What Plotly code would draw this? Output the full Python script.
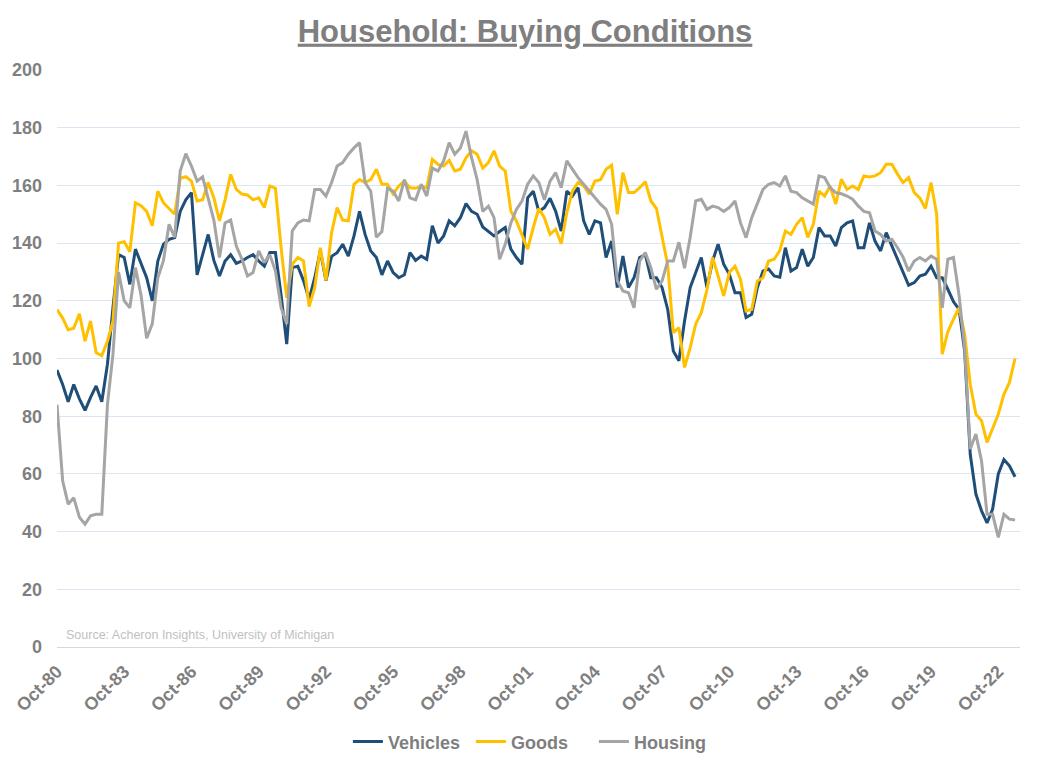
import pandas as pd
import plotly.graph_objects as go

# Quarterly readings starting Oct-1980 (every 3 months)
start_date = "1980-10-01"
n_points = 172

vehicles = [
    96, 91, 85, 91, 86, 82, 86.5, 90.5, 85, 98, 117.6, 136, 135, 125.7, 137.9, 132.7, 128, 120, 133.8, 139.6, 141.3, 141.9,
    151, 155, 157.5, 129, 136, 143, 134, 128.6, 133.8, 136, 133, 133.8, 135, 136, 133.8, 132, 136.7, 136.7, 122, 105, 131.5,
    132, 127, 120.5, 128, 137.3, 127, 135.4, 136.7, 139.6, 135.5, 142.5, 151, 143, 137.3, 135, 129, 133.8, 129.8, 128, 129, 136.7,
    134, 135.5, 134.4, 146, 140, 142.5, 147.7, 146, 148.8, 153.7, 151, 150, 145.6, 144.2, 142.5, 144, 145.4, 137.9, 135, 132.7, 155.7, 158,
    151, 152.3, 155.5, 151, 144.2, 158, 156.3, 159.2, 147.7, 143, 147.7, 147, 135, 140.7, 124.6, 135.5, 124.6, 128, 135, 136, 128,
    128, 124.6, 117, 102.6, 99.2, 113, 124.6, 129.8, 135, 124.6, 133.8, 139.6, 132.7, 129.2, 122.8, 122.8, 114.2, 115.3, 124.6, 130.3, 131, 128.6,
    128.2, 138.4, 130.3, 131.5, 137.9, 132, 135, 145.4, 142.5, 142.5, 139, 145.4, 147, 147.7, 138.4, 138.4, 147, 140.7, 137.3, 143.6, 139,
    134.5, 129.4, 125.4, 126.3, 128.6, 129.2, 132, 128, 128, 124, 119.7, 117, 102.6, 66.8, 53, 47.2, 43, 47.8, 60, 65, 62.8, 59,
]

goods = [
    117, 114, 110, 110.5, 115.5, 106, 113, 102, 101, 106, 113, 140, 140.5, 137, 154, 153, 151, 146, 158, 154, 152, 150,
    162.5, 163, 161.5, 154.6, 155, 161, 155.7, 147.7, 155, 163.8, 158.6, 157, 156.7, 155, 155.7, 152.3, 159.8, 159, 138.4, 121, 132.7,
    135, 133.8, 118, 124.6, 138.4, 127, 143.6, 152.3, 148, 147.7, 160.4, 162, 161, 162, 165.6, 160.4, 160.4, 157, 159.8, 161.5, 159.2,
    159, 159.8, 159.2, 169, 167.3, 166.7, 168.7, 165, 165.6, 169.6, 172, 170.8, 166, 167.9, 172, 166.7, 165, 151, 147.7, 143, 137.9, 145.4,
    152, 148.8, 143, 144.8, 139.8, 150.5, 158, 161, 159.8, 157, 161.5, 162, 165.6, 167, 150, 164.4, 157.5, 157.5, 159.2, 161.3, 154.6,
    152, 141.9, 132.4, 109, 110.7, 96.9, 103.8, 111.9, 115.9, 123.8, 135, 128.6, 121.7, 129.8, 132, 127.5, 116.5, 117, 126.9, 128, 133.8, 134.4,
    137.5, 144.2, 143, 146.5, 148.8, 142, 146.5, 158, 156.3, 159.8, 153.5, 162.1, 158.6, 159.8, 158.6, 163.3, 162.9, 163.3, 164.4, 167.3, 167.3,
    164, 161, 162.7, 157.5, 155.7, 152, 161, 150, 101.5, 109.3, 113.6, 117.6, 108.4, 91.1, 80.7, 78.4, 70.9, 76.1, 80.7, 87.6, 91.7, 100,
]

housing = [
    84, 57.6, 49.5, 51.7, 45, 42.6, 45.5, 46, 46, 84, 101.5, 130, 120, 117.6, 131.5, 122, 107, 112, 128, 133.8, 146.5, 142,
    165, 171, 166.7, 161.5, 163, 155.7, 148, 135, 147, 148, 139, 134.4, 128.6, 129.8, 137.3, 133.2, 136, 130.3, 117.6, 112, 144.2,
    147, 148, 147.7, 158.6, 158.6, 156.3, 161, 166.7, 167.9, 170.8, 173, 174.8, 161, 158, 142, 144, 159, 158, 154.6, 162, 155.7,
    155, 160.4, 156.3, 166, 165, 168.5, 174.8, 170.8, 173, 178.8, 169.6, 162, 151, 152.8, 148.8, 134.4, 139.6, 147, 151.7, 154.6, 160.4, 163.3,
    161, 155, 161.5, 164.4, 159.2, 168.5, 165.6, 162.7, 160.4, 158, 155.7, 153.5, 151.7, 146.5, 127, 123.4, 122.8, 117.6, 133.8, 136.7, 131.5,
    124, 126.9, 133.8, 133.8, 140.3, 131.3, 142, 154.6, 155.2, 151.7, 152.8, 152.3, 151, 152.3, 154.6, 147, 141.9, 148.8, 154, 158.6, 160.4, 161,
    159.8, 163.3, 158, 157.5, 155.7, 154.6, 153.5, 163.3, 162.7, 159.2, 157.5, 157.1, 156.3, 155.2, 152.9, 151, 150.5, 144.2, 143, 140.7, 141.3,
    138.5, 135.2, 130.3, 133.8, 135, 133.8, 135.5, 134.4, 117.6, 134.4, 135, 121.7, 103.8, 68.6, 73.8, 64.5, 46, 46, 38, 46, 44.3, 44,
]

dates = pd.date_range(start_date, periods=n_points, freq="3MS")

series_names = ["Vehicles", "Goods", "Housing"]
series_colors = ["#1f4e79", "#ffc000", "#a5a5a5"]
series_values = [vehicles, goods, housing]

title_text = "Household: Buying Conditions"
source_text = "Source: Acheron Insights, University of Michigan"

FONT = "Liberation Sans, Arial, sans-serif"
GRAY = "#7f7f7f"

fig = go.Figure()
for name, color, vals in zip(series_names, series_colors, series_values):
    fig.add_trace(go.Scatter(
        x=dates, y=vals, mode="lines", name=name,
        line=dict(color=color, width=3),
    ))

# page body has an 8px default margin, so the figure is sized to fit inside the window
fig.update_layout(
    width=1053, height=762,
    paper_bgcolor="white", plot_bgcolor="white",
    margin=dict(l=49, r=41, t=62, b=123, autoexpand=False),
    font=dict(family=FONT, color=GRAY),
    title=dict(
        text="<u>" + title_text + "</u>",
        x=0.491, xref="container", xanchor="center",
        y=0.97, yref="container", yanchor="middle",
        font=dict(family=FONT, size=31, color=GRAY, weight="bold"),
    ),
    legend=dict(
        orientation="h", x=0.498, xref="container", xanchor="center",
        y=0.037, yref="container", yanchor="middle",
        font=dict(family=FONT, size=18, color=GRAY, weight="bold"),
        entrywidth=78, entrywidthmode="pixels",
        itemwidth=30,
    ),
    showlegend=True,
)

fig.update_xaxes(
    type="date",
    range=["1980-10-01", "2023-09-20"],
    tick0="1980-10-01", dtick="M36", tickformat="%b-%y",
    tickangle=-45,
    tickfont=dict(family=FONT, size=18, color=GRAY, weight="bold"),
    showgrid=False, showline=True, linecolor="#d0d8e4", linewidth=1,
    ticks="", ticklabelstandoff=6,
)
fig.update_yaxes(
    range=[0, 200], dtick=20, tick0=0,
    tickfont=dict(family=FONT, size=18, color=GRAY, weight="bold"),
    showgrid=True, gridcolor="#dce6f2", gridwidth=1,
    zeroline=False, showline=False, ticks="",
    ticklabelstandoff=14,
)

fig.add_annotation(
    text=source_text, xref="paper", yref="paper",
    x=0.007, y=0.02, xanchor="left", yanchor="middle",
    showarrow=False, font=dict(family=FONT, size=12.5, color="#bfbfbf"),
)

fig.write_html("out.html")
